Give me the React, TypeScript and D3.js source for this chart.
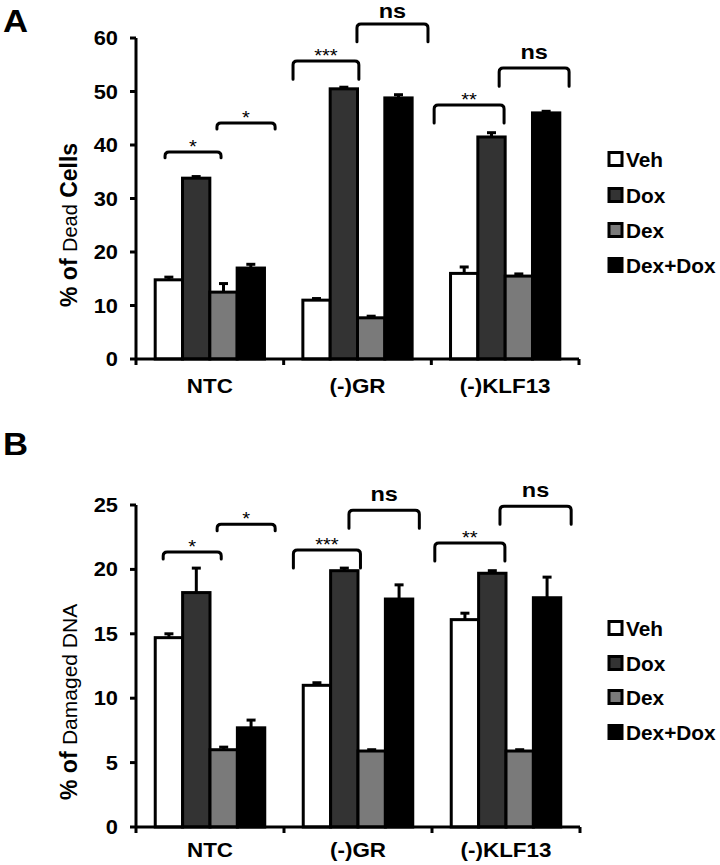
import React from "react";
import * as d3 from "d3";

const categories = ["NTC", "(-)GR", "(-)KLF13"];
const series = ["Veh", "Dox", "Dex", "Dex+Dox"];
const seriesColors = ["#ffffff", "#333333", "#7a7a7a", "#000000"];

const deadMeans = [
  [14.8, 33.8, 12.5, 17.0],
  [11.0, 50.5, 7.7, 48.8],
  [16.0, 41.5, 15.5, 46.0],
];
const deadErrors = [
  [0.5, 0.3, 1.6, 0.7],
  [0.3, 0.3, 0.3, 0.6],
  [1.2, 0.8, 0.4, 0.3],
];
const dnaMeans = [
  [14.7, 18.2, 6.0, 7.7],
  [11.0, 19.9, 5.9, 17.7],
  [16.1, 19.7, 5.9, 17.8],
];
const dnaErrors = [
  [0.3, 1.9, 0.2, 0.6],
  [0.2, 0.2, 0.1, 1.1],
  [0.5, 0.2, 0.1, 1.6],
];
const deadTicks = [0, 10, 20, 30, 40, 50, 60];
const dnaTicks = [0, 5, 10, 15, 20, 25];

// significance brackets: category, start/end in bar-width units from group left
const bracketLabels = ["*", "*", "***", "ns", "**", "ns"];
const bracketCats = [0, 0, 1, 1, 2, 2];
const deadBracketFrom = [0.36, 2.26, -0.36, 1.98, -0.6, 1.78];
const deadBracketTo = [2.41, 4.39, 2.05, 4.58, 1.96, 4.34];
const deadBracketTop = [38.7, 44.1, 55.7, 62.6, 47.5, 54.4];
const deadBracketBottom = [37.6, 43.0, 52.3, 59.3, 44.1, 51.0];
const dnaBracketFrom = [0.29, 2.26, -0.36, 1.67, -0.6, 1.78];
const dnaBracketTo = [2.41, 4.38, 2.09, 4.24, 1.96, 4.38];
const dnaBracketTop = [21.35, 23.5, 21.5, 24.6, 22.05, 24.9];
const dnaBracketBottom = [20.8, 23.0, 20.1, 23.2, 20.65, 23.5];

const FONT = "'Liberation Sans', Arial, Helvetica, sans-serif";
const SX = 1.12;

function HText({ x, y, anchor = "start", size, weight = "bold", sx = SX, children }: any) {
  return (
    <text
      transform={`translate(${x},${y}) scale(${sx},1)`}
      textAnchor={anchor}
      fontSize={size}
      fontWeight={weight}
      fontFamily={FONT}
      fill="#000"
    >
      {children}
    </text>
  );
}

function Panel({
  letter, letterY, top, bottom, left, right, yMax, ticks, means, errors,
  bFrom, bTo, bTop, bBottom, titleParts, titleStartY, legendYs, xLabelOffset,
}: any) {
  const y = d3.scaleLinear().domain([0, yMax]).range([bottom, top]);
  const x0 = d3.scaleBand<string>().domain(categories).range([left, right]).paddingInner(0.26).paddingOuter(0.13);
  const x1 = d3.scaleBand<string>().domain(series).range([0, x0.bandwidth()]).padding(0);
  const bw = x1.bandwidth();
  const step = x0.step();
  const boundaries = d3.range(categories.length + 1).map((i) => left + i * step);

  const bracketPath = (xa: number, xb: number, yt: number, yb: number) => {
    const r = 4;
    return `M${xa},${yb} V${yt + r} Q${xa},${yt} ${xa + r},${yt} H${xb - r} Q${xb},${yt} ${xb},${yt + r} V${yb}`;
  };

  return (
    <g>
      <HText x={3} y={letterY} size={31}>{letter}</HText>
      {/* y axis title */}
      <text transform={`translate(77,${titleStartY}) rotate(-90)`} fontFamily={FONT} fill="#000">
        {titleParts.map((p: any, i: number) => (
          <tspan key={i} fontSize={p.size} fontWeight={p.weight}>{p.text}</tspan>
        ))}
      </text>
      {/* bars */}
      {categories.map((c, ci) => (
        <g key={c} transform={`translate(${x0(c)},0)`}>
          {series.map((s, si) => {
            const v = means[ci][si];
            const e = errors[ci][si];
            const bx = x1(s)!;
            const cx = bx + bw / 2;
            return (
              <g key={s}>
                <line x1={cx} x2={cx} y1={y(v)} y2={y(v + e)} stroke="#000" strokeWidth={3} />
                <line x1={cx - 4.5} x2={cx + 4.5} y1={y(v + e)} y2={y(v + e)} stroke="#000" strokeWidth={3} />
                <rect x={bx} y={y(v)} width={bw} height={y(0) - y(v)} fill={seriesColors[si]} stroke="#000" strokeWidth={3} />
              </g>
            );
          })}
        </g>
      ))}
      {/* axes */}
      <line x1={left} x2={left} y1={top} y2={bottom} stroke="#000" strokeWidth={3} />
      {ticks.map((t: number) => (
        <g key={t}>
          <line x1={left - 6} x2={left} y1={y(t)} y2={y(t)} stroke="#000" strokeWidth={3} />
          <HText x={118} y={y(t) + 7} anchor="end" size={19.5}>{t}</HText>
        </g>
      ))}
      <line x1={left} x2={right} y1={bottom} y2={bottom} stroke="#000" strokeWidth={3} />
      {boundaries.map((b, i) => (
        <line key={i} x1={b} x2={b} y1={bottom} y2={bottom + 6} stroke="#000" strokeWidth={3} />
      ))}
      {categories.map((c) => (
        <HText key={c} x={x0(c)! + x0.bandwidth() / 2} y={bottom + xLabelOffset} anchor="middle" size={20}>{c}</HText>
      ))}
      {/* brackets */}
      {bracketLabels.map((lab, i) => {
        const gl = x0(categories[bracketCats[i]])!;
        const xa = gl + bFrom[i] * bw;
        const xb = gl + bTo[i] * bw;
        const yt = y(bTop[i]);
        const yb = y(bBottom[i]);
        const isNs = lab === "ns";
        return (
          <g key={i}>
            <path d={bracketPath(xa, xb, yt, yb)} fill="none" stroke="#000" strokeWidth={3} strokeLinecap="round" />
            <HText x={(xa + xb) / 2} y={isNs ? Math.max(yt - 9, 18) : yt + 1} anchor="middle" size={isNs ? 21 : 18} weight={isNs ? "bold" : "normal"}>
              {lab}
            </HText>
          </g>
        );
      })}
      {/* legend */}
      {series.map((s, si) => (
        <g key={s}>
          <rect x={609} y={legendYs[si] - 6.5} width={13} height={13} fill={seriesColors[si]} stroke="#000" strokeWidth={3} />
          <HText x={626} y={legendYs[si] + 7.5} size={20} sx={1.04}>{s}</HText>
        </g>
      ))}
    </g>
  );
}

export default function App() {
  return (
    <svg width={720} height={865} style={{ position: "absolute", left: 0, top: 0, background: "#fff" }}>
      <rect width={720} height={865} fill="#fff" />
      <Panel
        letter="A" letterY={32} top={38} bottom={359} left={136} right={579} yMax={60}
        ticks={deadTicks} means={deadMeans} errors={deadErrors}
        bFrom={deadBracketFrom} bTo={deadBracketTo} bTop={deadBracketTop} bBottom={deadBracketBottom}
        titleStartY={307} xLabelOffset={34}
        titleParts={[
          { text: "% of ", size: 23, weight: "bold" },
          { text: "Dead", size: 20, weight: "normal" },
          { text: " Cells", size: 23, weight: "bold" },
        ]}
        legendYs={[159, 195, 230, 265]}
      />
      <Panel
        letter="B" letterY={455} top={505} bottom={827} left={136} right={580} yMax={25}
        ticks={dnaTicks} means={dnaMeans} errors={dnaErrors}
        bFrom={dnaBracketFrom} bTo={dnaBracketTo} bTop={dnaBracketTop} bBottom={dnaBracketBottom}
        titleStartY={800} xLabelOffset={30}
        titleParts={[
          { text: "% of ", size: 23, weight: "bold" },
          { text: "Damaged DNA", size: 21, weight: "normal" },
        ]}
        legendYs={[628, 663, 697, 732]}
      />
    </svg>
  );
}
